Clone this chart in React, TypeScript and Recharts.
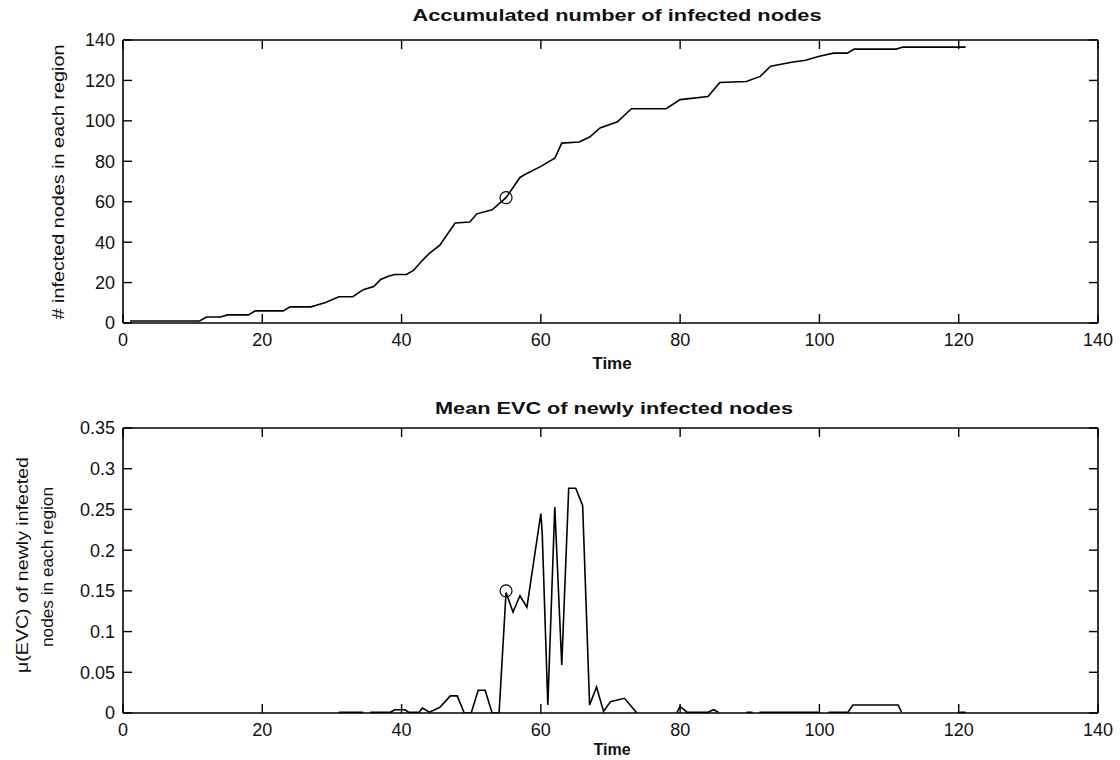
import React from 'react';
import { LineChart, Line, XAxis, YAxis, ReferenceDot } from 'recharts';

// ---------- data ----------
const timeTicks = [0, 20, 40, 60, 80, 100, 120, 140];
const countTicks = [0, 20, 40, 60, 80, 100, 120, 140];
const evcTicks = [0, 0.05, 0.1, 0.15, 0.2, 0.25, 0.3, 0.35];
const evcTickLabels = ['0', '0.05', '0.1', '0.15', '0.2', '0.25', '0.3', '0.35'];

const infectedTime = [1, 11, 12, 14, 15, 18, 19, 23, 24, 27, 28, 29, 31, 33, 34.5, 36, 37, 38, 39, 40.7, 41.7, 43, 44, 45.5, 46.5, 47.7, 49.8, 50.8, 53, 55, 57, 58, 60, 62, 63, 65.5, 67, 68.5, 71, 73, 78, 80, 84, 85.7, 89.5, 91.5, 93, 96, 98, 100, 102, 104, 105, 111, 112, 121];
const infectedCount = [1, 1, 3, 3, 4, 4, 6, 6, 8, 8, 9, 10, 13, 13, 16.5, 18, 21.5, 23, 24, 24, 26, 31, 34.5, 38.5, 43.5, 49.5, 50, 54, 56, 62, 72, 74, 77.5, 81.5, 89, 89.5, 92, 96.5, 99.5, 106, 106, 110.5, 112, 119, 119.5, 122, 127, 129, 130, 132, 133.5, 133.5, 135.5, 135.5, 136.5, 136.5];
const infectedMarkerTime = 55;
const infectedMarkerCount = 62;

const evcTime = [31, 34.5, 35, 35.5, 38.4, 39, 40.5, 41, 42.5, 43, 44, 45.5, 47, 48, 49, 50, 51, 52, 53, 54, 55, 56, 57, 58, 60, 60.2, 61, 62, 63, 64, 65, 66, 67, 68, 69, 70, 71, 72, 73.8, 74, 79.5, 80, 81, 84, 84.8, 85.5, 86, 89.5, 90.4, 90.9, 91.4, 100, 100.6, 101.3, 104.1, 104.8, 111.3, 111.8, 112, 120, 121];
const evcMean = [0.001, 0.001, null, 0.001, 0.001, 0.004, 0.004, 0.001, 0.001, 0.006, 0.001, 0.007, 0.021, 0.021, 0, 0, 0.028, 0.028, 0, 0, 0.148, 0.124, 0.144, 0.13, 0.245, 0.22, 0.01, 0.253, 0.059, 0.276, 0.276, 0.255, 0.01, 0.032, 0.002, 0.014, 0.016, 0.018, 0, null, 0, 0.008, 0.001, 0.001, 0.004, 0.001, null, 0.001, 0.001, null, 0.001, 0.001, null, 0.001, 0.001, 0.0098, 0.0098, 0.001, null, 0.001, 0.001];
const evcMarkerTime = 55;
const evcMarkerMean = 0.15;

const infectedData = infectedTime.map((t, i) => ({ t, v: infectedCount[i] }));
const evcData = evcTime.map((t, i) => ({ t, v: evcMean[i] }));

// ---------- styles ----------
const FONT = '"Liberation Sans", Arial, Helvetica, sans-serif';
const tickStyle = { fontFamily: FONT, fontSize: 18, fill: '#111' };
const axisLine = { stroke: '#000', strokeWidth: 1.6 };
const tickLine = { stroke: '#000', strokeWidth: 1.4 };
const noLabel = () => '';

function Panel(props: {
  data: { t: number; v: number | null }[];
  yTicks: number[];
  yDomain: [number, number];
  yFormatter: (v: number) => string;
  markerX: number;
  markerY: number;
  height: number;
  top: number;
  marginTop: number;
  marginBottom: number;
}) {
  const { data, yTicks, yDomain, yFormatter, markerX, markerY, height, top, marginTop, marginBottom } = props;
  return (
    <div style={{ position: 'absolute', left: 0, top }}>
      <LineChart
        width={1120}
        height={height}
        data={data}
        margin={{ top: marginTop, right: 21, bottom: marginBottom, left: 83 }}
      >
        <XAxis
          dataKey="t"
          type="number"
          domain={[0, 140]}
          ticks={timeTicks}
          allowDataOverflow
          height={30}
          tickSize={-9}
          tickMargin={19}
          axisLine={axisLine}
          tickLine={tickLine}
          tick={tickStyle}
        />
        <XAxis
          xAxisId="top"
          orientation="top"
          dataKey="t"
          type="number"
          domain={[0, 140]}
          ticks={timeTicks}
          allowDataOverflow
          height={1}
          tickSize={-9}
          axisLine={axisLine}
          tickLine={tickLine}
          tick={tickStyle}
          tickFormatter={noLabel}
        />
        <YAxis
          type="number"
          domain={yDomain}
          ticks={yTicks}
          allowDataOverflow
          width={40}
          tickSize={-9}
          tickMargin={17}
          axisLine={axisLine}
          tickLine={tickLine}
          tick={tickStyle}
          tickFormatter={yFormatter}
        />
        <YAxis
          yAxisId="right"
          orientation="right"
          type="number"
          domain={yDomain}
          ticks={yTicks}
          allowDataOverflow
          width={1}
          tickSize={-9}
          axisLine={axisLine}
          tickLine={tickLine}
          tick={tickStyle}
          tickFormatter={noLabel}
        />
        <Line
          type="linear"
          dataKey="v"
          stroke="#000"
          strokeWidth={1.6}
          dot={false}
          connectNulls={false}
          isAnimationActive={false}
        />
        <ReferenceDot x={markerX} y={markerY} r={6} fill="none" stroke="#000" strokeWidth={1.2} />
      </LineChart>
    </div>
  );
}

export default function App() {
  return (
    <div style={{ position: 'absolute', left: 0, top: 0, width: 1120, height: 760, background: '#fff' }}>
      <Panel
        data={infectedData}
        yTicks={countTicks}
        yDomain={[0, 140]}
        yFormatter={(v) => String(v)}
        markerX={infectedMarkerTime}
        markerY={infectedMarkerCount}
        height={380}
        top={0}
        marginTop={39}
        marginBottom={27}
      />
      <Panel
        data={evcData}
        yTicks={evcTicks}
        yDomain={[0, 0.35]}
        yFormatter={(v) => evcTickLabels[evcTicks.indexOf(v)] ?? String(v)}
        markerX={evcMarkerTime}
        markerY={evcMarkerMean}
        height={370}
        top={390}
        marginTop={37}
        marginBottom={17}
      />
      <svg
        width={1120}
        height={760}
        style={{ position: 'absolute', left: 0, top: 0, pointerEvents: 'none' }}
      >
        <g fontFamily={FONT} fill="#111">
          <text x={617} y={21} textAnchor="middle" fontWeight="bold" fontSize={17} textLength={409} lengthAdjust="spacingAndGlyphs">
            Accumulated number of infected nodes
          </text>
          <text x={612} y={369} textAnchor="middle" fontWeight="bold" fontSize={17}>
            Time
          </text>
          <text transform="translate(64,182) rotate(-90)" textAnchor="middle" fontSize={17} textLength={275} lengthAdjust="spacingAndGlyphs">
            # infected nodes in each region
          </text>
          <text x={614} y={414} textAnchor="middle" fontWeight="bold" fontSize={17} textLength={358} lengthAdjust="spacingAndGlyphs">
            Mean EVC of newly infected nodes
          </text>
          <text x={612} y={755} textAnchor="middle" fontWeight="bold" fontSize={16}>
            Time
          </text>
          <text transform="translate(28,565) rotate(-90)" textAnchor="middle" fontSize={17} textLength={216} lengthAdjust="spacingAndGlyphs">
            μ(EVC) of newly infected
          </text>
          <text transform="translate(53,567) rotate(-90)" textAnchor="middle" fontSize={17} textLength={160} lengthAdjust="spacingAndGlyphs">
            nodes in each region
          </text>
        </g>
      </svg>
    </div>
  );
}
